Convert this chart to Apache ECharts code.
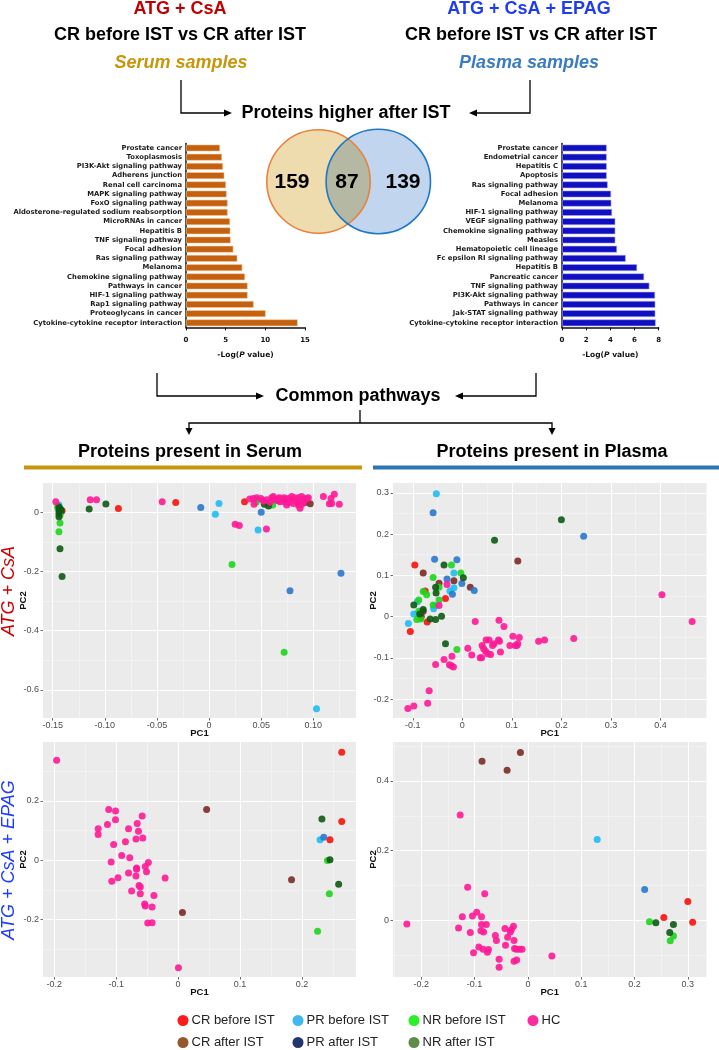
<!DOCTYPE html>
<html>
<head>
<meta charset="utf-8">
<title>Proteins higher after IST</title>
<script src="https://cdn.jsdelivr.net/npm/echarts@6.0.0/dist/echarts.min.js"></script>
<style>
  html, body { margin: 0; padding: 0; background: #fff; }
  #chart { width: 719px; height: 1050px; }
</style>
</head>
<body>
<div id="chart"></div>
<script>
const FONT = '"Liberation Sans", Arial, sans-serif'
const SMALL_FONT = '"DejaVu Sans", sans-serif'

// KEGG pathways, top to bottom, with -Log(P value)
const serumPathways = [
  'Prostate cancer', 'Toxoplasmosis', 'PI3K-Akt signaling pathway', 'Adherens junction',
  'Renal cell carcinoma', 'MAPK signaling pathway', 'FoxO signaling pathway',
  'Aldosterone-regulated sodium reabsorption', 'MicroRNAs in cancer', 'Hepatitis B',
  'TNF signaling pathway', 'Focal adhesion', 'Ras signaling pathway', 'Melanoma',
  'Chemokine signaling pathway', 'Pathways in cancer', 'HIF-1 signaling pathway',
  'Rap1 signaling pathway', 'Proteoglycans in cancer', 'Cytokine-cytokine receptor interaction'
]
const serumLogP = [4.29, 4.54, 4.66, 4.83, 5.04, 5.13, 5.25, 5.25, 5.55, 5.59,
  5.63, 5.97, 6.47, 7.10, 7.44, 7.77, 7.77, 8.53, 10.04, 14.08]

const plasmaPathways = [
  'Prostate cancer', 'Endometrial cancer', 'Hepatitis C', 'Apoptosis', 'Ras signaling pathway',
  'Focal adhesion', 'Melanoma', 'HIF-1 signaling pathway', 'VEGF signaling pathway',
  'Chemokine signaling pathway', 'Measles', 'Hematopoietic cell lineage',
  'Fc epsilon RI signaling pathway', 'Hepatitis B', 'Pancreatic cancer', 'TNF signaling pathway',
  'PI3K-Akt signaling pathway', 'Pathways in cancer', 'Jak-STAT signaling pathway',
  'Cytokine-cytokine receptor interaction'
]
const plasmaLogP = [3.70, 3.70, 3.70, 3.70, 3.78, 4.06, 4.08, 4.14, 4.41, 4.41,
  4.41, 4.55, 5.27, 6.21, 6.79, 7.23, 7.70, 7.72, 7.72, 7.75]

// serum only, shared, plasma only
const vennCounts = [159, 87, 139]

const groupNames = ['CR before IST', 'CR after IST', 'PR before IST', 'PR after IST', 'NR before IST', 'NR after IST', 'HC']
const groupCodes = ['CRb', 'CRa', 'PRb', 'PRa', 'NRb', 'NRa', 'HC']
const pointColors = ['#f8120e', '#7b2b26', '#1ebdf3', '#2a78cf', '#1ed51e', '#0e5a14', '#ff1a96']
const legendColors = ['#ff0000', '#8b4513', '#2ab2ef', '#0b1f5e', '#12ee12', '#4b7f35', '#ff1493']

// PCA scores: [PC1, PC2, group]
const serumAtgPoints = [
  [-0.147, 0.036, 'HC'], [-0.144, 0.025, 'PRb'], [-0.144, 0.018, 'NRa'], [-0.143, 0.012, 'NRa'],
  [-0.145, 0.015, 'NRb'], [-0.144, 0.006, 'NRa'], [-0.143, 0.002, 'NRb'], [-0.144, -0.004, 'NRa'],
  [-0.143, -0.010, 'NRb'], [-0.144, -0.015, 'NRa'], [-0.142, 0.008, 'NRa'], [-0.145, 0.020, 'NRb'],
  [-0.141, 0.005, 'CRb'], [-0.142, 0.003, 'CRa'], [-0.143, -0.036, 'NRb'], [-0.144, -0.066, 'NRb'],
  [-0.143, -0.123, 'NRa'], [-0.141, -0.217, 'NRa'],
  [-0.114, 0.042, 'HC'], [-0.108, 0.042, 'HC'], [-0.115, 0.011, 'NRa'], [-0.099, 0.028, 'NRa'],
  [-0.087, 0.013, 'CRb'], [-0.045, 0.036, 'HC'], [-0.032, 0.033, 'CRb'], [-0.008, 0.016, 'PRa'],
  [0.0095, 0.030, 'PRb'], [0.006, -0.007, 'PRb'], [0.025, -0.040, 'HC'], [0.029, -0.045, 'HC'],
  [0.022, -0.176, 'NRb'], [0.034, 0.036, 'CRb'], [0.047, -0.060, 'PRb'], [0.055, -0.056, 'HC'],
  [0.050, 0.000, 'PRa'], [0.046, 0.042, 'PRa'], [0.058, 0.032, 'PRa'], [0.072, 0.036, 'PRa'],
  [0.0776, -0.265, 'PRa'], [0.1265, -0.206, 'PRa'], [0.072, -0.473, 'NRb'], [0.103, -0.664, 'PRb'],
  [0.053, 0.027, 'NRa'], [0.057, 0.021, 'NRa'], [0.045, 0.034, 'NRb'], [0.061, 0.025, 'NRb'],
  [0.085, 0.033, 'CRa'], [0.092, 0.033, 'CRa'], [0.097, 0.029, 'CRa'], [0.066, 0.040, 'CRa'],
  [0.039, 0.045, 'HC'], [0.0425, 0.047, 'HC'], [0.0457, 0.049, 'HC'], [0.0498, 0.047, 'HC'],
  [0.052, 0.038, 'HC'], [0.0552, 0.042, 'HC'], [0.060, 0.049, 'HC'], [0.0632, 0.042, 'HC'],
  [0.0674, 0.049, 'HC'], [0.0696, 0.042, 'HC'], [0.0738, 0.036, 'HC'], [0.076, 0.047, 'HC'],
  [0.0792, 0.042, 'HC'], [0.0808, 0.030, 'HC'], [0.084, 0.042, 'HC'], [0.0856, 0.049, 'HC'],
  [0.0888, 0.053, 'HC'], [0.0898, 0.044, 'HC'], [0.0911, 0.036, 'HC'], [0.0936, 0.047, 'HC'],
  [0.0856, 0.025, 'HC'], [0.0872, 0.0135, 'HC'], [0.0888, 0.027, 'HC'], [0.0744, 0.025, 'HC'],
  [0.0952, 0.049, 'HC'], [0.0792, 0.053, 'HC'], [0.068, 0.036, 'HC'], [0.0616, 0.053, 'HC'],
  [0.1096, 0.053, 'HC'], [0.1169, 0.047, 'HC'], [0.1201, 0.061, 'HC'], [0.1176, 0.030, 'HC'],
  [0.1153, 0.029, 'HC'], [0.1249, 0.027, 'HC'], [0.0431, 0.027, 'HC'], [0.0584, 0.034, 'HC'],
  [0.0719, 0.049, 'HC'], [0.0818, 0.049, 'HC'], [0.0872, 0.036, 'HC'], [0.077, 0.034, 'HC'],
  [0.0655, 0.045, 'HC'], [0.0725, 0.043, 'HC']
]

const plasmaAtgPoints = [
  [-0.0525, 0.298, 'PRb'], [-0.017, 0.106, 'PRb'], [-0.025, 0.062, 'PRb'], [-0.017, 0.070, 'PRb'],
  [-0.091, 0.036, 'PRb'], [-0.055, 0.026, 'PRb'], [-0.098, 0.006, 'PRb'], [-0.109, -0.017, 'PRb'],
  [-0.058, 0.019, 'PRb'],
  [-0.059, 0.252, 'PRa'], [0.245, 0.195, 'PRa'], [-0.056, 0.139, 'PRa'], [-0.011, 0.138, 'PRa'],
  [-0.031, 0.091, 'PRa'], [-0.001, 0.080, 'PRa'], [-0.020, 0.054, 'PRa'], [0.024, 0.063, 'PRa'],
  [0.200, 0.235, 'NRa'], [0.065, 0.185, 'NRa'], [-0.037, 0.125, 'NRa'], [0.002, 0.094, 'NRa'],
  [-0.054, 0.071, 'NRa'], [-0.053, 0.057, 'NRa'], [-0.098, 0.028, 'NRa'], [-0.079, 0.017, 'NRa'],
  [-0.086, 0.006, 'NRa'], [-0.042, 0.001, 'NRa'], [-0.065, -0.006, 'NRa'], [-0.054, -0.007, 'NRa'],
  [-0.034, -0.066, 'NRa'],
  [0.112, 0.135, 'CRa'], [-0.079, 0.106, 'CRa'], [-0.017, 0.087, 'CRa'], [-0.047, 0.081, 'CRa'],
  [0.016, 0.071, 'CRa'], [-0.079, 0.013, 'CRa'], [-0.083, 0.001, 'CRa'],
  [-0.096, 0.125, 'CRb'], [-0.075, 0.062, 'CRb'], [-0.034, 0.044, 'CRb'], [-0.084, -0.002, 'CRb'],
  [-0.071, -0.013, 'CRb'], [-0.105, -0.036, 'CRb'],
  [-0.022, 0.125, 'NRb'], [-0.003, 0.106, 'NRb'], [-0.059, 0.095, 'NRb'], [-0.047, 0.071, 'NRb'],
  [-0.079, 0.061, 'NRb'], [-0.072, 0.053, 'NRb'], [-0.047, 0.040, 'NRb'], [-0.088, 0.040, 'NRb'],
  [-0.059, 0.028, 'NRb'], [-0.088, 0.013, 'NRb'], [-0.092, -0.007, 'NRb'], [-0.084, -0.006, 'NRb'],
  [-0.011, -0.080, 'NRb'],
  [-0.031, 0.078, 'HC'], [-0.047, 0.027, 'HC'], [0.026, -0.012, 'HC'], [0.074, -0.009, 'HC'],
  [0.084, -0.024, 'HC'], [0.048, -0.057, 'HC'], [0.054, -0.057, 'HC'], [0.073, -0.057, 'HC'],
  [0.075, -0.060, 'HC'], [0.102, -0.048, 'HC'], [0.115, -0.051, 'HC'], [0.107, -0.070, 'HC'],
  [0.110, -0.070, 'HC'], [0.112, -0.066, 'HC'], [0.096, -0.070, 'HC'], [0.064, -0.066, 'HC'],
  [0.061, -0.070, 'HC'], [0.040, -0.070, 'HC'], [0.043, -0.078, 'HC'], [0.047, -0.084, 'HC'],
  [0.051, -0.090, 'HC'], [0.057, -0.092, 'HC'], [0.011, -0.077, 'HC'], [0.019, -0.093, 'HC'],
  [0.036, -0.100, 'HC'], [0.039, -0.100, 'HC'], [0.077, -0.086, 'HC'], [0.154, -0.060, 'HC'],
  [0.166, -0.057, 'HC'], [0.225, -0.053, 'HC'], [0.403, 0.053, 'HC'], [0.464, -0.012, 'HC'],
  [-0.021, -0.096, 'HC'], [-0.037, -0.104, 'HC'], [-0.026, -0.117, 'HC'], [-0.022, -0.119, 'HC'],
  [-0.018, -0.122, 'HC'], [-0.054, -0.116, 'HC'], [-0.067, -0.180, 'HC'], [-0.070, -0.210, 'HC'],
  [-0.098, -0.217, 'HC'], [-0.110, -0.223, 'HC']
]

const serumEpagPoints = [
  [-0.196, 0.337, 'HC'], [0.0005, -0.363, 'HC'], [-0.112, 0.171, 'HC'], [-0.101, 0.166, 'HC'],
  [-0.058, 0.149, 'HC'], [-0.101, 0.137, 'HC'], [-0.066, 0.124, 'HC'], [-0.114, 0.121, 'HC'],
  [-0.129, 0.106, 'HC'], [-0.080, 0.106, 'HC'], [-0.064, 0.098, 'HC'], [-0.129, 0.087, 'HC'],
  [-0.057, 0.075, 'HC'], [-0.068, 0.072, 'HC'], [-0.085, 0.062, 'HC'], [-0.104, 0.053, 'HC'],
  [-0.091, 0.016, 'HC'], [-0.078, 0.008, 'HC'], [-0.108, -0.006, 'HC'], [-0.048, -0.008, 'HC'],
  [-0.053, -0.021, 'HC'], [-0.067, -0.026, 'HC'], [-0.067, -0.030, 'HC'], [-0.080, -0.043, 'HC'],
  [-0.051, -0.039, 'HC'], [-0.097, -0.059, 'HC'], [-0.021, -0.060, 'HC'], [-0.068, -0.053, 'HC'],
  [-0.107, -0.071, 'HC'], [-0.075, -0.104, 'HC'], [-0.063, -0.085, 'HC'], [-0.061, -0.090, 'HC'],
  [-0.061, -0.113, 'HC'], [-0.039, -0.119, 'HC'], [-0.054, -0.148, 'HC'], [-0.053, -0.154, 'HC'],
  [-0.042, -0.158, 'HC'], [-0.049, -0.212, 'HC'], [-0.042, -0.211, 'HC'],
  [0.264, 0.364, 'CRb'], [0.264, 0.131, 'CRb'], [0.245, 0.069, 'CRb'],
  [0.046, 0.171, 'CRa'], [0.183, -0.066, 'CRa'], [0.007, -0.176, 'CRa'],
  [0.229, 0.069, 'PRb'], [0.235, 0.078, 'PRa'],
  [0.241, -0.001, 'NRb'], [0.244, -0.113, 'NRb'], [0.225, -0.240, 'NRb'],
  [0.232, 0.139, 'NRa'], [0.245, 0.002, 'NRa'], [0.259, -0.081, 'NRa']
]

const plasmaEpagPoints = [
  [-0.014, 0.482, 'CRa'], [-0.086, 0.457, 'CRa'], [-0.039, 0.431, 'CRa'],
  [-0.127, 0.302, 'HC'], [-0.227, -0.011, 'HC'], [0.045, -0.103, 'HC'], [-0.113, 0.095, 'HC'],
  [-0.081, 0.076, 'HC'], [-0.096, 0.023, 'HC'], [-0.104, 0.012, 'HC'], [-0.087, 0.010, 'HC'],
  [-0.123, 0.010, 'HC'], [-0.130, -0.022, 'HC'], [-0.108, -0.035, 'HC'], [-0.088, -0.030, 'HC'],
  [-0.083, -0.034, 'HC'], [-0.087, -0.012, 'HC'], [-0.078, -0.012, 'HC'], [-0.061, -0.044, 'HC'],
  [-0.059, -0.058, 'HC'], [-0.043, -0.024, 'HC'], [-0.038, -0.049, 'HC'], [-0.031, -0.027, 'HC'],
  [-0.033, -0.034, 'HC'], [-0.027, -0.017, 'HC'], [-0.042, -0.072, 'HC'], [-0.026, -0.058, 'HC'],
  [-0.025, -0.081, 'HC'], [-0.022, -0.083, 'HC'], [-0.016, -0.083, 'HC'], [-0.011, -0.083, 'HC'],
  [-0.092, -0.077, 'HC'], [-0.084, -0.083, 'HC'], [-0.074, -0.084, 'HC'], [-0.076, -0.092, 'HC'],
  [-0.102, -0.093, 'HC'], [-0.054, -0.112, 'HC'], [-0.054, -0.135, 'HC'], [-0.026, -0.118, 'HC'],
  [-0.021, -0.114, 'HC'],
  [0.130, 0.232, 'PRb'], [0.219, 0.088, 'PRa'],
  [0.300, 0.054, 'CRb'], [0.255, 0.008, 'CRb'], [0.309, -0.006, 'CRb'],
  [0.228, -0.004, 'NRb'], [0.273, -0.045, 'NRb'], [0.267, -0.059, 'NRb'],
  [0.240, -0.007, 'NRa'], [0.273, -0.012, 'NRa'], [0.266, -0.035, 'NRa']
]

// axis breaks
const serumAtgXTicks = [-0.15, -0.1, -0.05, 0, 0.05, 0.1]
const serumAtgYTicks = [-0.6, -0.4, -0.2, 0]
const plasmaAtgXTicks = [-0.1, 0, 0.1, 0.2, 0.3, 0.4]
const plasmaAtgYTicks = [-0.2, -0.1, 0, 0.1, 0.2, 0.3]
const serumEpagXTicks = [-0.2, -0.1, 0, 0.1, 0.2]
const serumEpagYTicks = [-0.2, 0, 0.2]
const plasmaEpagXTicks = [-0.2, -0.1, 0, 0.1, 0.2, 0.3]
const plasmaEpagYTicks = [0, 0.2, 0.4]

const panels = [
  { points: serumAtgPoints, xTicks: serumAtgXTicks, yTicks: serumAtgYTicks, xRange: [-0.1593, 0.1409], yRange: [-0.695, 0.099], xDec: 2, yDec: 1, box: { left: 43, top: 483, width: 313, height: 235 } },
  { points: plasmaAtgPoints, xTicks: plasmaAtgXTicks, yTicks: plasmaAtgYTicks, xRange: [-0.140, 0.493], yRange: [-0.246, 0.324], xDec: 1, yDec: 1, box: { left: 393, top: 483, width: 313.5, height: 235 } },
  { points: serumEpagPoints, xTicks: serumEpagXTicks, yTicks: serumEpagYTicks, xRange: [-0.218, 0.287], yRange: [-0.394, 0.399], xDec: 1, yDec: 1, box: { left: 43, top: 742, width: 313, height: 235 } },
  { points: plasmaEpagPoints, xTicks: plasmaEpagXTicks, yTicks: plasmaEpagYTicks, xRange: [-0.253, 0.335], yRange: [-0.163, 0.512], xDec: 1, yDec: 1, box: { left: 393, top: 742, width: 313.5, height: 235 } }
]

const fmt = (v, d) => (Math.abs(v) < 1e-9 ? '0' : v.toFixed(d))

// ggplot-style minor breaks halfway between the major ones
function minorValues(ticks, range) {
  const step = ticks[1] - ticks[0]
  const out = []
  for (let v = ticks[0] - step / 2; v <= range[1] + 1e-9; v += step) {
    if (v >= range[0]) out.push(+v.toFixed(4))
  }
  return out
}

function barCategoryAxis(gi, names) {
  return {
    type: 'category', gridIndex: gi, data: names, inverse: true,
    axisLine: { lineStyle: { color: '#111', width: 1.5 } },
    axisTick: { alignWithLabel: true, length: 3, lineStyle: { color: '#111', width: 1 } },
    axisLabel: { interval: 0, margin: 4, fontFamily: SMALL_FONT, fontSize: 6.8, fontWeight: 'bold', color: '#1a1a1a' }
  }
}

function barValueAxis(gi, max, interval) {
  return {
    type: 'value', gridIndex: gi, min: 0, max, interval,
    axisLine: { show: true, onZero: false, lineStyle: { color: '#111', width: 1.5 } },
    axisTick: { show: true, length: 3, lineStyle: { color: '#111', width: 1 } },
    axisLabel: { margin: 9.5, fontFamily: SMALL_FONT, fontSize: 7, fontWeight: 'bold', color: '#111' },
    splitLine: { show: false },
    name: '-Log({i|P} value)', nameLocation: 'middle', nameGap: 24, nameMoveOverlap: false,
    nameTextStyle: {
      fontFamily: SMALL_FONT, fontSize: 7.5, fontWeight: 'bold', color: '#111',
      rich: { i: { fontFamily: SMALL_FONT, fontSize: 7.5, fontWeight: 'bold', fontStyle: 'italic', color: '#111' } }
    }
  }
}

const grids = [
  { left: 186, top: 143.4, width: 119, height: 184, containLabel: false },
  { left: 562, top: 143.4, width: 96.7, height: 184, containLabel: false }
]
const xAxes = [barValueAxis(0, 15, 5), barValueAxis(1, 8, 2)]
const yAxes = [barCategoryAxis(0, serumPathways), barCategoryAxis(1, plasmaPathways)]
const series = [
  {
    type: 'bar', xAxisIndex: 0, yAxisIndex: 0, data: serumLogP, barCategoryGap: '26%',
    itemStyle: { color: '#c4600e', borderColor: '#f2c89e', borderWidth: 0.6 }
  },
  {
    type: 'bar', xAxisIndex: 1, yAxisIndex: 1, data: plasmaLogP, barCategoryGap: '26%',
    itemStyle: { color: '#1010c0', borderColor: '#a8a8f0', borderWidth: 0.6 }
  }
]

panels.forEach((p, k) => {
  const gi = 2 + k
  grids.push({ ...p.box, show: true, backgroundColor: '#ebebeb', borderWidth: 0 })
  const tickStyle = { show: true, length: 2.5, lineStyle: { color: '#444', width: 0.8 } }
  const labelStyle = { fontFamily: FONT, fontSize: 9, color: '#4d4d4d' }
  const nameStyle = { fontFamily: FONT, fontSize: 9.5, fontWeight: 'bold', color: '#111' }
  xAxes.push({
    type: 'value', gridIndex: gi, min: p.xRange[0], max: p.xRange[1],
    axisLine: { show: false, onZero: false },
    axisTick: { ...tickStyle, customValues: p.xTicks },
    axisLabel: { ...labelStyle, margin: 3, customValues: p.xTicks, formatter: v => fmt(v, p.xDec) },
    splitLine: { show: true, lineStyle: { color: '#fff', width: 1 } },
    name: 'PC1', nameLocation: 'middle', nameGap: 10, nameMoveOverlap: false, nameTextStyle: nameStyle
  })
  xAxes.push({
    type: 'value', gridIndex: gi, position: 'top', min: p.xRange[0], max: p.xRange[1],
    axisLine: { show: false, onZero: false }, axisLabel: { show: false },
    axisTick: { show: false, customValues: minorValues(p.xTicks, p.xRange) },
    splitLine: { show: true, lineStyle: { color: '#f7f7f7', width: 0.6 } }
  })
  yAxes.push({
    type: 'value', gridIndex: gi, min: p.yRange[0], max: p.yRange[1],
    axisLine: { show: false, onZero: false },
    axisTick: { ...tickStyle, customValues: p.yTicks },
    axisLabel: { ...labelStyle, margin: 4, customValues: p.yTicks, formatter: v => fmt(v, p.yDec) },
    splitLine: { show: true, lineStyle: { color: '#fff', width: 1 } },
    name: 'PC2', nameLocation: 'middle', nameGap: 15, nameMoveOverlap: false, nameTextStyle: nameStyle
  })
  yAxes.push({
    type: 'value', gridIndex: gi, position: 'right', min: p.yRange[0], max: p.yRange[1],
    axisLine: { show: false, onZero: false }, axisLabel: { show: false },
    axisTick: { show: false, customValues: minorValues(p.yTicks, p.yRange) },
    splitLine: { show: true, lineStyle: { color: '#f7f7f7', width: 0.6 } }
  })
  groupCodes.forEach((code, g) => {
    const pts = p.points.filter(d => d[2] === code).map(d => [d[0], d[1]])
    if (!pts.length) return
    series.push({
      type: 'scatter', name: groupNames[g], xAxisIndex: 2 + 2 * k, yAxisIndex: 2 + 2 * k,
      data: pts, symbolSize: 7,
      itemStyle: { color: pointColors[g], opacity: 0.9 }
    })
  })
})

// legend: two rows, four columns
const legendOrder = [0, 2, 4, 6, 1, 3, 5]
const legendSlots = [[177.5, 1014], [292.5, 1014], [408.5, 1014], [527.5, 1014], [177.5, 1036], [292.5, 1036], [408.5, 1036]]
const legends = legendOrder.map((g, i) => ({
  left: legendSlots[i][0], top: legendSlots[i][1], padding: 0, selectedMode: false,
  icon: 'circle', itemWidth: 11, itemHeight: 11,
  data: [{ name: groupNames[g], itemStyle: { color: legendColors[g] } }],
  textStyle: { fontFamily: FONT, fontSize: 13, color: '#222', padding: [0, 0, 0, -2] }
}))

// annotation helpers
function label(text, x, y, size, opts = {}) {
  return {
    type: 'text', x, y, rotation: opts.rotation || 0, z: 10,
    style: {
      text, x: 0, y: 0, fill: opts.color || '#000',
      fontFamily: FONT, fontSize: size, fontWeight: opts.weight || 'bold', fontStyle: opts.style || 'normal',
      textAlign: 'center', textVerticalAlign: 'middle', align: 'center', verticalAlign: 'middle'
    }
  }
}
function line(points) {
  return { type: 'polyline', z: 10, shape: { points }, style: { stroke: '#000', lineWidth: 1.3, fill: null } }
}
function head(points) {
  return { type: 'polygon', z: 10, shape: { points }, style: { fill: '#000' } }
}

const graphics = [
  label('ATG + CsA', 180, 9, 18, { color: '#c00000' }),
  label('CR before IST vs CR after IST', 180, 35, 18),
  label('Serum samples', 181, 63, 18, { color: '#c8960a', style: 'italic' }),
  label('ATG + CsA + EPAG', 529, 9, 18, { color: '#1f3cf0' }),
  label('CR before IST vs CR after IST', 531, 35, 18),
  label('Plasma samples', 529, 63, 18, { color: '#3a7bc2', style: 'italic' }),
  label('Proteins higher after IST', 346, 113, 18),

  line([[181, 80], [181, 113], [225, 113]]), head([[224, 109.5], [232, 113], [224, 116.5]]),
  line([[530, 80], [530, 113], [476, 113]]), head([[477, 109.5], [469, 113], [477, 116.5]]),

  // Venn diagram
  { type: 'circle', z: 5, shape: { cx: 318.5, cy: 181.5, r: 51.7 }, style: { fill: '#efdcae' } },
  { type: 'circle', z: 6, shape: { cx: 378.3, cy: 181.5, r: 52.2 }, style: { fill: '#c1d6ee', blend: 'multiply' } },
  { type: 'circle', z: 7, shape: { cx: 318.5, cy: 181.5, r: 51.7 }, style: { fill: null, stroke: '#e8823c', lineWidth: 1.6 } },
  { type: 'circle', z: 7, shape: { cx: 378.3, cy: 181.5, r: 52.2 }, style: { fill: null, stroke: '#1e78c8', lineWidth: 1.6 } },
  label(String(vennCounts[0]), 292, 182, 21),
  label(String(vennCounts[1]), 347, 182, 21),
  label(String(vennCounts[2]), 403, 182, 21),

  line([[157, 373], [157, 396], [257, 396]]), head([[256, 392.5], [264, 396], [256, 399.5]]),
  line([[536, 373], [536, 396], [462, 396]]), head([[463, 392.5], [455, 396], [463, 399.5]]),
  label('Common pathways', 358, 396, 18),
  line([[360, 410], [360, 423]]),
  line([[189, 429], [189, 423], [552, 423], [552, 429]]),
  head([[185.5, 428], [189, 435], [192.5, 428]]),
  head([[548.5, 428], [552, 435], [555.5, 428]]),
  label('Proteins present in Serum', 190, 452, 18),
  label('Proteins present in Plasma', 552, 452, 18),
  { type: 'rect', z: 10, shape: { x: 24, y: 465.5, width: 338, height: 4 }, style: { fill: '#c8960c' } },
  { type: 'rect', z: 10, shape: { x: 373, y: 465.5, width: 346, height: 4 }, style: { fill: '#2e75b6' } },

  label('ATG + CsA', 9, 591, 18, { color: '#cc0000', weight: 'normal', style: 'italic', rotation: Math.PI / 2 }),
  label('ATG + CsA + EPAG', 9, 860, 18, { color: '#1f3cff', weight: 'normal', style: 'italic', rotation: Math.PI / 2 })
]

const chart = echarts.init(document.getElementById('chart'), null, { renderer: 'canvas' })
chart.setOption({
  animation: false,
  backgroundColor: '#fff',
  grid: grids,
  xAxis: xAxes,
  yAxis: yAxes,
  legend: legends,
  series,
  graphic: { elements: graphics }
})
</script>
</body>
</html>
